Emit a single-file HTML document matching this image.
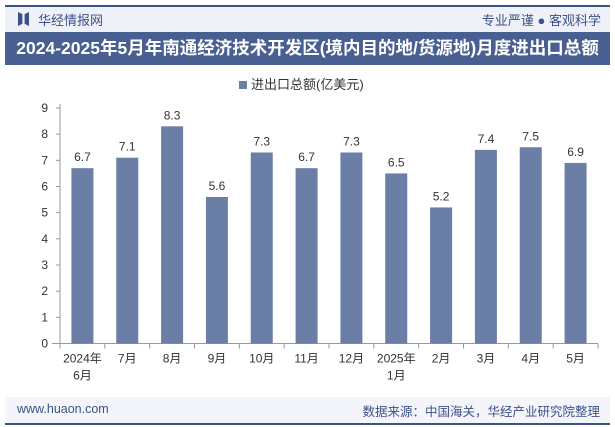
<!DOCTYPE html>
<html><head><meta charset="utf-8"><style>
body{margin:0;width:615px;height:427px;overflow:hidden;background:#fff;font-family:"Liberation Sans","Noto Sans CJK SC",sans-serif;position:relative}
.abs{position:absolute}
</style></head><body>
<div class="abs" style="left:5px;top:5px;width:605px;height:27px;background:#eef2f8;border-top:2px solid #3d5189"></div>
<div class="abs" style="left:18px;top:12px;width:11px;height:14px;background:#3d5189;clip-path:polygon(0 0,40% 15%,40% 85%,0 100%,0 0,100% 0,100% 100%,60% 85%,60% 15%,100% 0)"></div>
<div class="abs" style="left:38px;top:10px;font-size:13px;color:#3d5189">华经情报网</div>
<div class="abs" style="right:14px;top:10px;font-size:13px;color:#3d5189">专业严谨 ● 客观科学</div>
<div class="abs" style="left:5px;top:32px;width:605px;height:33px;background:#485f91;color:#fff;font-weight:bold;font-size:17.5px;line-height:33px;text-align:center;white-space:nowrap">2024-2025年5月年南通经济技术开发区(境内目的地/货源地)月度进出口总额</div>
<div class="abs" style="left:239px;top:74px;font-size:13px;color:#333"><span style="display:inline-block;width:8px;height:8px;background:#6b7fa6;margin-right:4px"></span>进出口总额(亿美元)</div>
<svg class="abs" style="left:0;top:0" width="615" height="427" id="chart"></svg>
<div class="abs" style="left:5px;top:397px;width:605px;height:26px;background:#f3f5fa;border-bottom:2px solid #3d5189"></div>
<div class="abs" style="left:17px;top:402px;font-size:12.5px;color:#3d5189">www.huaon.com</div>
<div class="abs" style="right:15px;top:401px;font-size:12.5px;color:#3d5189">数据来源：中国海关，华经产业研究院整理</div>
<script>
const categories=["2024年\n6月","7月","8月","9月","10月","11月","12月","2025年\n1月","2月","3月","4月","5月"];
const values=[6.7,7.1,8.3,5.6,7.3,6.7,7.3,6.5,5.2,7.4,7.5,6.9];
const yTicks=[0,1,2,3,4,5,6,7,8,9];
const svg=document.getElementById('chart');
const NS='http://www.w3.org/2000/svg';
const x0=60,x1=598,y0=343.5,yTop=108,yMax=9;
const step=(x1-x0)/categories.length;
const ys=v=>y0-(v/yMax)*(y0-yTop);
const xc=i=>x0+step*(i+0.5);
function mk(t,a){const e=document.createElementNS(NS,t);for(const k in a)e.setAttribute(k,a[k]);svg.appendChild(e);return e;}
yTicks.forEach(v=>{
 const t=mk('text',{x:48,y:ys(v)+4,'text-anchor':'end','font-size':12,fill:'#333'});
 t.textContent=v;
 
 
});
const ax=mk('line',{x1:x0,y1:yTop-4,x2:x0,y2:y0,stroke:'#999'});


const bx=mk('line',{x1:x0-8,y1:y0,x2:x1,y2:y0,stroke:'#999'});


yTicks.forEach(v=>{const l=mk('line',{x1:x0-4,y1:ys(v),x2:x0,y2:ys(v),stroke:'#999'});});
for(let i=0;i<=categories.length;i++){const l=mk('line',{x1:x0+step*i,y1:y0,x2:x0+step*i,y2:y0+5,stroke:'#999'});}
values.forEach((v,i)=>{
 const r=mk('rect',{x:xc(i)-11,y:ys(v),width:22,height:y0-ys(v),fill:'#6b7fa6'});
 
 
 const t=mk('text',{x:xc(i),y:ys(v)-7,'text-anchor':'middle','font-size':12,fill:'#333'});
 t.textContent=v;
 
 
});
categories.forEach((c,i)=>{
 c.split('\n').forEach((ln,j)=>{
  const t=mk('text',{x:xc(i),y:y0+19+j*17,'text-anchor':'middle','font-size':12,fill:'#333'});
  t.textContent=ln;
  
  
 });
});
</script>
</body></html>
